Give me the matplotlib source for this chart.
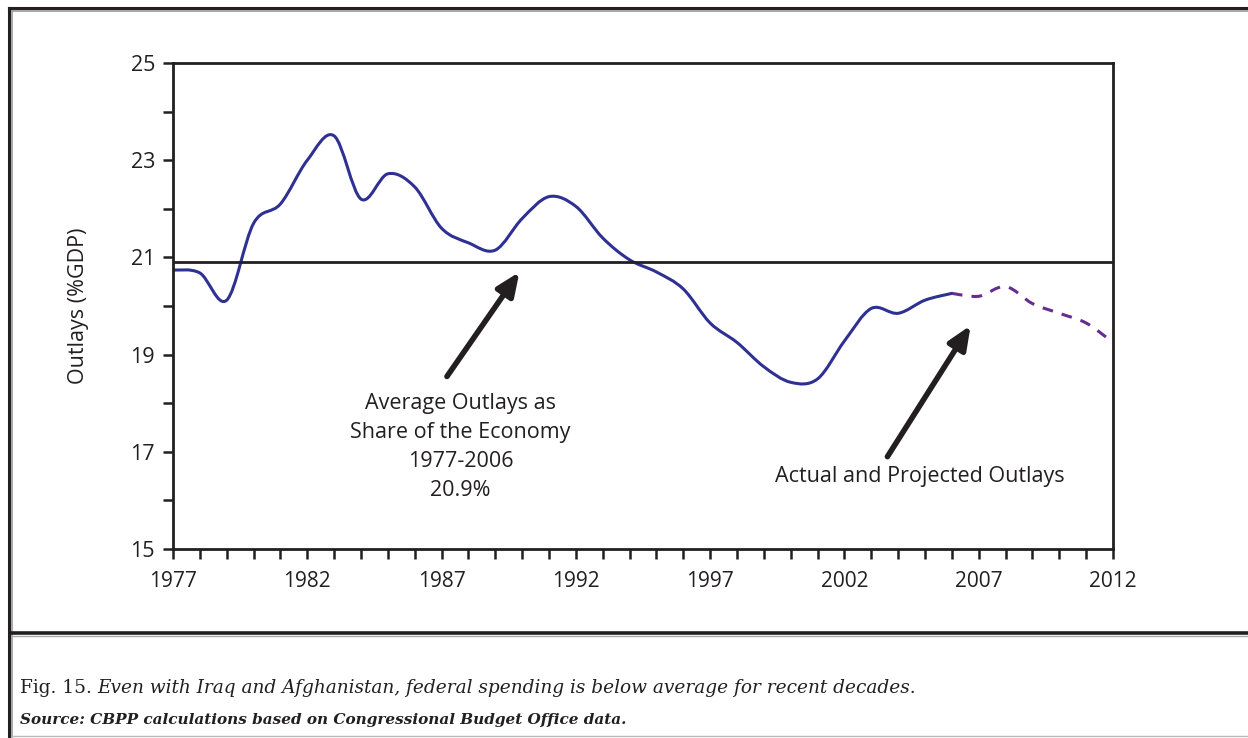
import matplotlib
matplotlib.use("Agg")
import matplotlib.pyplot as plt
import numpy as np
from matplotlib.path import Path
from matplotlib.patches import PathPatch
from matplotlib.lines import Line2D

# Actual outlays, % of GDP
actual_years = list(range(1977, 2007))
actual_vals = [20.74, 20.68, 20.12, 21.7, 22.1, 23.0, 23.5, 22.2, 22.72, 22.45,
               21.6, 21.3, 21.15, 21.8, 22.25, 22.05, 21.4, 20.95, 20.7, 20.35,
               19.65, 19.25, 18.75, 18.43, 18.5, 19.28, 19.95, 19.85, 20.12, 20.26]
# Projected outlays
proj_years = list(range(2006, 2013))
proj_vals = [20.26, 20.2, 20.4, 20.05, 19.85, 19.65, 19.25]
average = 20.9

x_labels = ['1977', '1982', '1987', '1992', '1997', '2002', '2007', '2012']
y_labels = ['15', '17', '19', '21', '23', '25']

BLUE = '#2e3192'
PURPLE = '#662d91'
INK = '#231f20'
FONT = 'Open Sans'


def smooth_path(xs, ys):
    # cubic bezier segments through the data points (catmull-rom tangents)
    xs = np.asarray(xs, float)
    ys = np.asarray(ys, float)
    verts = [(xs[0], ys[0])]
    codes = [Path.MOVETO]
    n = len(xs)
    for i in range(n - 1):
        i0 = max(i - 1, 0)
        i3 = min(i + 2, n - 1)
        c1 = (xs[i] + (xs[i + 1] - xs[i0]) / 6, ys[i] + (ys[i + 1] - ys[i0]) / 6)
        c2 = (xs[i + 1] - (xs[i3] - xs[i]) / 6, ys[i + 1] - (ys[i3] - ys[i]) / 6)
        verts += [c1, c2, (xs[i + 1], ys[i + 1])]
        codes += [Path.CURVE4] * 3
    return Path(verts, codes)


fig = plt.figure(figsize=(12.48, 7.38), dpi=100)
ax = fig.add_axes([173 / 1248, 1 - 549 / 738, 940 / 1248, 486 / 738])

ax.add_patch(PathPatch(smooth_path(actual_years, actual_vals), fill=False,
                       edgecolor=BLUE, lw=2.2, capstyle='round'))
ax.add_patch(PathPatch(smooth_path(proj_years, proj_vals), fill=False,
                       edgecolor=PURPLE, lw=2.2, linestyle=(0, (3.5, 3))))
ax.axhline(average, color=INK, lw=2)

ax.set_xlim(1977, 2012)
ax.set_ylim(15, 25)
ax.set_xticks(range(1977, 2013, 5))
ax.set_xticklabels(x_labels, fontsize=15, family=FONT)
ax.set_xticks(range(1977, 2013), minor=True)
ax.set_yticks(range(15, 26, 2))
ax.set_yticklabels(y_labels, fontsize=15.5, family=FONT)
ax.set_yticks(range(15, 26), minor=True)
ax.tick_params(which='both', direction='out', length=7, width=1.8,
               color=INK, labelcolor=INK)
ax.tick_params(axis='x', which='major', pad=9)
ax.tick_params(axis='y', which='major', pad=6)
for s in ax.spines.values():
    s.set_linewidth(2)
    s.set_color(INK)
ax.set_ylabel('Outlays (%GDP)', fontsize=15.5, family=FONT, color=INK)
ax.yaxis.set_label_coords((89 - 173) / 940, 0.5)

arrow = dict(arrowstyle='-|>,head_length=1.4,head_width=0.6', lw=4,
             color=INK, shrinkA=0, shrinkB=0)
ax.annotate('', xy=(1989.9, 20.7), xytext=(1987.2, 18.55), arrowprops=arrow)
ax.annotate('', xy=(2006.7, 19.6), xytext=(2003.6, 16.9), arrowprops=arrow)

ax.text(1987.7, 17.1, 'Average Outlays as\nShare of the Economy\n1977-2006\n20.9%',
        ha='center', va='center', fontsize=15.5, family=FONT,
        linespacing=1.5, color=INK)
ax.text(2004.8, 16.5, 'Actual and Projected Outlays', ha='center', va='center',
        fontsize=15.5, family=FONT, color=INK)


# frame around the figure
def fline(x0, y0, x1, y1, color, lw):
    fig.add_artist(Line2D([x0 / 1248, x1 / 1248], [1 - y0 / 738, 1 - y1 / 738],
                          color=color, lw=lw, transform=fig.transFigure))


fline(9, 8, 1248, 8, INK, 2.2)
fline(12, 11, 1248, 11, '#999999', 1.2)
fline(9, 8, 9, 738, INK, 2.2)
fline(12, 11, 12, 738, '#999999', 1.2)
fline(12, 633, 1248, 633, INK, 2.6)
fline(12, 636, 1248, 636, '#aaaaaa', 1.0)
fline(12, 736, 1248, 736, '#bbbbbb', 1.0)

cap = fig.text(20 / 1248, 1 - 693 / 738, 'Fig. 15. ', fontsize=13.3,
               family='DejaVu Serif', va='baseline', color=INK)
fig.canvas.draw()
ext = cap.get_window_extent()
fig.text(ext.x1 / 1248, 1 - 693 / 738,
         'Even with Iraq and Afghanistan, federal spending is below average for recent decades.',
         fontsize=13.3, family='DejaVu Serif', style='italic', va='baseline', color=INK)
fig.text(20 / 1248, 1 - 724 / 738,
         'Source: CBPP calculations based on Congressional Budget Office data.',
         fontsize=11, family='DejaVu Serif', style='italic', weight='bold',
         va='baseline', color=INK)

fig.savefig('out.png', dpi=100)
